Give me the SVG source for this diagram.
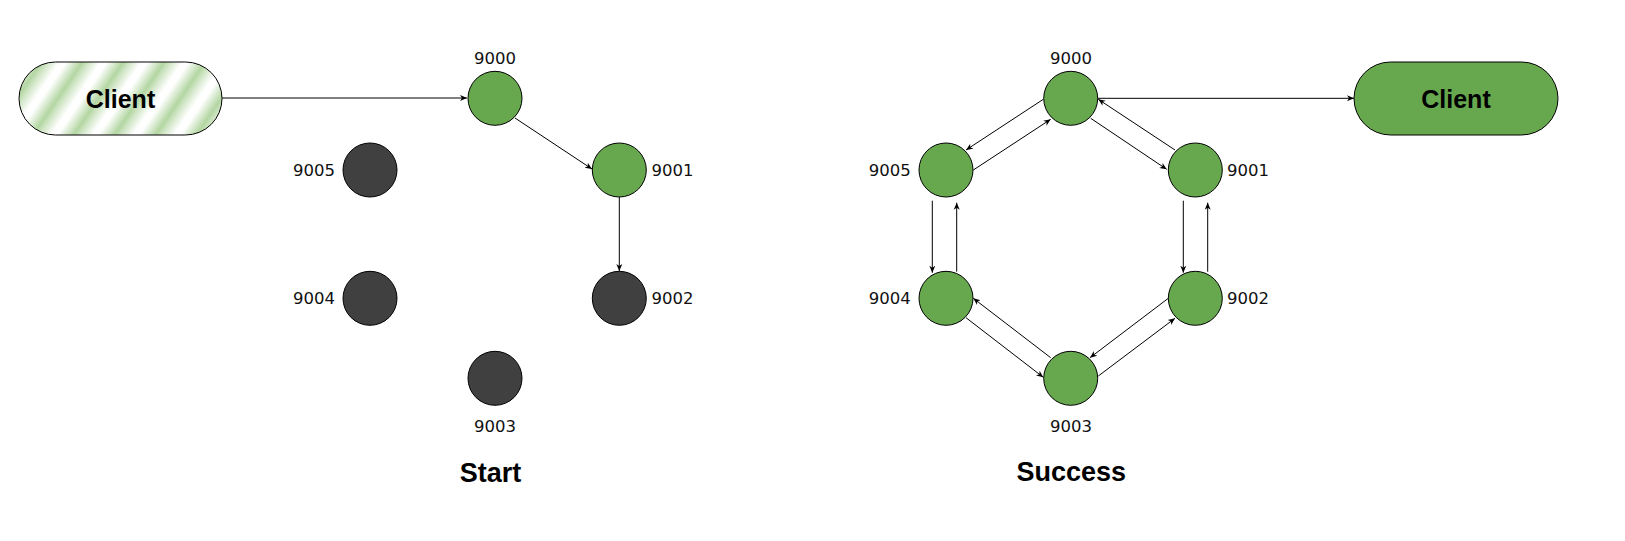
<svg xmlns="http://www.w3.org/2000/svg" width="1625" height="541" viewBox="0 0 1625 541">
<defs>
<linearGradient id="stripes" gradientUnits="userSpaceOnUse" x1="19" y1="62" x2="47" y2="81" spreadMethod="repeat">
<stop offset="0" stop-color="#ffffff"/>
<stop offset="0.15" stop-color="#ffffff"/>
<stop offset="0.55" stop-color="#b3d6a2"/>
<stop offset="0.7" stop-color="#cfe5c4"/>
<stop offset="1" stop-color="#ffffff"/>
</linearGradient>
<marker id="arr" markerUnits="userSpaceOnUse" markerWidth="8" markerHeight="8" viewBox="0 0 8 8" refX="7" refY="4" orient="auto">
<path d="M0,1 L7,4 L0,7 L2,4 Z" fill="#000"/>
</marker>
<style>
.g{fill:#67a84e;stroke:#000;stroke-width:1}
.d{fill:#404040;stroke:#000;stroke-width:1}
.lbl{font-family:"DejaVu Sans",sans-serif;font-size:16.5px;fill:#111}
.ttl{font-family:"Liberation Sans",Arial,sans-serif;font-weight:bold;font-size:27px;fill:#000}
.cl{font-family:"Liberation Sans",Arial,sans-serif;font-weight:bold;font-size:25px;fill:#000}
.c{stroke:#000;stroke-width:1;fill:none;marker-end:url(#arr)}
</style>
</defs>
<rect width="1625" height="541" fill="#fff"/>

<g id="connectors">
<line class="c" x1="222" y1="98" x2="467" y2="98"/>
<line class="c" x1="515" y1="118" x2="592" y2="169"/>
<line class="c" x1="619.3" y1="197" x2="619.3" y2="271"/>

<line class="c" x1="1098" y1="98.3" x2="1354" y2="98.3"/>
<line class="c" x1="1043.3" y1="99.3" x2="966" y2="150"/>
<line class="c" x1="973.3" y1="170" x2="1050.7" y2="119.3"/>
<line class="c" x1="1090.7" y1="118.3" x2="1166.7" y2="169.3"/>
<line class="c" x1="1175" y1="150" x2="1098.3" y2="99.3"/>
<line class="c" x1="932.3" y1="200.7" x2="932.3" y2="272.7"/>
<line class="c" x1="956.7" y1="271.7" x2="956.7" y2="202.7"/>
<line class="c" x1="1183.3" y1="200.7" x2="1183.3" y2="272.7"/>
<line class="c" x1="1207.7" y1="271.7" x2="1207.7" y2="202.7"/>
<line class="c" x1="1050.7" y1="357.7" x2="973.3" y2="298.3"/>
<line class="c" x1="966" y1="317.7" x2="1043.3" y2="377.3"/>
<line class="c" x1="1168.3" y1="298.3" x2="1090" y2="357.7"/>
<line class="c" x1="1098.3" y1="376" x2="1175" y2="318.3"/>
</g>

<g id="client-left">
<rect x="19" y="62" width="203" height="73" rx="36.5" ry="36.5" fill="url(#stripes)" stroke="#000" stroke-width="1"/>
<text class="cl" x="120.5" y="107.5" text-anchor="middle">Client</text>
</g>
<g id="l9000"><circle class="g" cx="495" cy="98.3" r="27"/><text class="lbl" x="495" y="64" text-anchor="middle">9000</text></g>
<g id="l9001"><circle class="g" cx="619.3" cy="170" r="27"/><text class="lbl" x="651.5" y="176" >9001</text></g>
<g id="l9002"><circle class="d" cx="619.3" cy="298.3" r="27"/><text class="lbl" x="651.5" y="304">9002</text></g>
<g id="l9003"><circle class="d" cx="495" cy="378.3" r="27"/><text class="lbl" x="495" y="431.7" text-anchor="middle">9003</text></g>
<g id="l9004"><circle class="d" cx="370" cy="298.3" r="27"/><text class="lbl" x="335" y="304" text-anchor="end">9004</text></g>
<g id="l9005"><circle class="d" cx="370" cy="170" r="27"/><text class="lbl" x="335" y="176" text-anchor="end">9005</text></g>
<g id="title-start"><text class="ttl" x="490.5" y="481.5" text-anchor="middle">Start</text></g>

<g id="client-right">
<rect x="1354" y="62" width="204" height="73" rx="36.5" ry="36.5" fill="#67a84e" stroke="#000" stroke-width="1"/>
<text class="cl" x="1456" y="107.5" text-anchor="middle">Client</text>
</g>
<g id="r9000"><circle class="g" cx="1070.7" cy="98.3" r="27"/><text class="lbl" x="1071" y="64" text-anchor="middle">9000</text></g>
<g id="r9001"><circle class="g" cx="1195.3" cy="170" r="27"/><text class="lbl" x="1227" y="176">9001</text></g>
<g id="r9002"><circle class="g" cx="1195.3" cy="298.3" r="27"/><text class="lbl" x="1227" y="304">9002</text></g>
<g id="r9003"><circle class="g" cx="1070.7" cy="378.3" r="27"/><text class="lbl" x="1071" y="431.7" text-anchor="middle">9003</text></g>
<g id="r9004"><circle class="g" cx="946" cy="298.3" r="27"/><text class="lbl" x="910.7" y="304" text-anchor="end">9004</text></g>
<g id="r9005"><circle class="g" cx="946" cy="170" r="27"/><text class="lbl" x="910.7" y="176" text-anchor="end">9005</text></g>
<g id="title-success"><text class="ttl" x="1071.3" y="481" text-anchor="middle">Success</text></g>
</svg>
